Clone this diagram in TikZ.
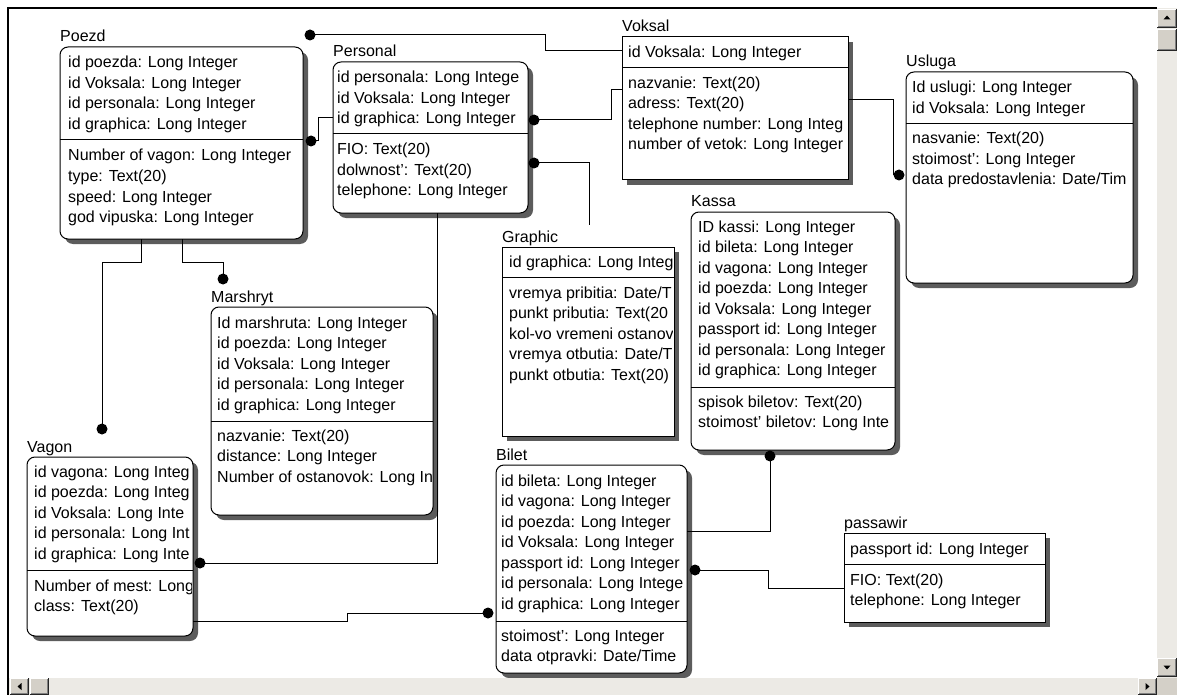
\documentclass[tikz,border=0pt]{standalone}
\usepackage{fontspec}
\setmainfont{Liberation Sans}
\definecolor{btnface}{HTML}{D4D0C8}
\definecolor{track}{HTML}{ECEAE5}
\definecolor{btnshade}{HTML}{808080}
\definecolor{shadowgray}{HTML}{5C5C5C}
\newcommand{\erfont}{\fontsize{16}{20}\selectfont}

\tikzset{
  entbox/.style={draw, fill=white, line width=1pt, inner sep=0pt, outer sep=0pt},
  roundbox/.style={rounded corners=8pt},
  squarebox/.style={sharp corners},
  enttitle/.style={anchor=base west, inner sep=0pt, font=\erfont},
  rowtext/.style={anchor=base west, inner sep=0pt, font=\erfont},
  conn/.style={line width=1pt},
  dotmark/.style={fill=black},
}

% table: name, title, corner style, left, top, right, bottom, separator y
\newcommand{\entity}[8]{%
  \path[fill=shadowgray,#3] ({#4+5},{#5+5}) rectangle ({#6+5},{#7+5});
  \node[entbox,#3,minimum width={#6-#4},minimum height={#7-#5}] (#1) at ({(#4+#6)/2},{(#5+#7)/2}) {};
  \node[enttitle] (#1-title) at (#4,#5-5) {#2};
  \draw[line width=1pt] (#1.west |- 0,#8) -- (#1.east |- 0,#8);
}
% field rows: name prefix, table node, x, first baseline, list of fields
\newcommand{\entrows}[5]{%
  \begin{scope}
    \clip (#2.south west) rectangle ([xshift=-1.5pt]#2.north east);
    \foreach \rowlabel [count=\k from 0] in {#5}
      \node[rowtext] (#1\k) at (#3, #4+20.5*\k) {\rowlabel};
  \end{scope}
}
% raised window button
\newcommand{\winbtn}[4]{%
  \fill[btnface] (#1,#2) rectangle (#3,#4);
  \draw[white, line width=1pt] (#1+0.5,#4-1) -- (#1+0.5,#2+0.5) -- (#3-1,#2+0.5);
  \draw[btnshade, line width=1pt] (#1+1,#4-1.5) -- (#3-1.5,#4-1.5) -- (#3-1.5,#2+1);
  \draw[black!85, line width=1pt] (#1,#4-0.5) -- (#3-0.5,#4-0.5) -- (#3-0.5,#2);
}

\begin{document}
\begin{tikzpicture}[x=1pt,y=-1pt]
\useasboundingbox (0,0) rectangle (1177,695);
\fill[white] (0,0) rectangle (1177,695);

% ---------- tables ----------
\entity{poezd}{Poezd}{roundbox}{60}{47}{303}{239}{140}
\entrows{poezdk}{poezd}{68}{68}{id poezda: Long Integer,id Voksala: Long Integer,id personala: Long Integer,id graphica: Long Integer}
\entrows{poezda}{poezd}{68}{161}{Number of vagon: Long Integer,type: Text(20),speed: Long Integer,god vipuska: Long Integer}

\entity{personal}{Personal}{roundbox}{333}{62}{528}{213}{134}
\entrows{personalk}{personal}{337}{83}{id personala: Long Intege,id Voksala: Long Integer,id graphica: Long Integer}
\entrows{personala}{personal}{337}{155}{FIO: Text(20),dolwnost': Text(20),telephone: Long Integer}

\entity{voksal}{Voksal}{squarebox}{622}{37}{848}{180}{68}
\entrows{voksalk}{voksal}{628}{57.5}{id Voksala: Long Integer}
\entrows{voksala}{voksal}{628}{88.5}{nazvanie: Text(20),adress: Text(20),telephone number: Long Integ,number of vetok: Long Integer}

\entity{usluga}{Usluga}{roundbox}{906}{72}{1133}{283}{124}
\entrows{uslugak}{usluga}{912}{93}{Id uslugi: Long Integer,id Voksala: Long Integer}
\entrows{uslugaa}{usluga}{912}{144}{nasvanie: Text(20),stoimost': Long Integer,data predostavlenia: Date/Tim}

\entity{graphic}{Graphic}{squarebox}{502}{247}{674}{436}{277}
\entrows{graphick}{graphic}{509}{267}{id graphica: Long Integ}
\entrows{graphica}{graphic}{509}{298}{vremya pribitia: Date/T,punkt pributia: Text(20,kol-vo vremeni ostanov,vremya otbutia: Date/T,punkt otbutia: Text(20)}

\entity{kassa}{Kassa}{roundbox}{691}{212}{895}{450}{387}
\entrows{kassak}{kassa}{698}{232}{ID kassi: Long Integer,id bileta: Long Integer,id vagona: Long Integer,id poezda: Long Integer,id Voksala: Long Integer,passport id: Long Integer,id personala: Long Integer,id graphica: Long Integer}
\entrows{kassaa}{kassa}{698}{407}{spisok biletov: Text(20),stoimost' biletov: Long Inte}

\entity{marshryt}{Marshryt}{roundbox}{211}{307}{433}{515}{421}
\entrows{marshrytk}{marshryt}{217}{328}{Id marshruta: Long Integer,id poezda: Long Integer,id Voksala: Long Integer,id personala: Long Integer,id graphica: Long Integer}
\entrows{marshryta}{marshryt}{217}{441}{nazvanie: Text(20),distance: Long Integer,Number of ostanovok: Long In}

\entity{vagon}{Vagon}{roundbox}{27}{457}{193}{636}{570}
\entrows{vagonk}{vagon}{34}{477}{id vagona: Long Integ,id poezda: Long Integ,id Voksala: Long Inte,id personala: Long Int,id graphica: Long Inte}
\entrows{vagona}{vagon}{34}{591}{Number of mest: Long,class: Text(20)}

\entity{bilet}{Bilet}{roundbox}{496}{465}{687}{673}{621}
\entrows{biletk}{bilet}{501}{486}{id bileta: Long Integer,id vagona: Long Integer,id poezda: Long Integer,id Voksala: Long Integer,passport id: Long Integer,id personala: Long Intege,id graphica: Long Integer}
\entrows{bileta}{bilet}{501}{641}{stoimost': Long Integer,data otpravki: Date/Time}

\entity{passawir}{passawir}{squarebox}{844}{533}{1045}{622}{564}
\entrows{passawirk}{passawir}{850}{554}{passport id: Long Integer}
\entrows{passawira}{passawir}{850}{585}{FIO: Text(20),telephone: Long Integer}

% ---------- relationship ends ----------
\coordinate (dPoezdTop) at (310,35);
\coordinate (dPoezdPers) at (311,141);
\coordinate (dPersVoks) at (534,120);
\coordinate (dPersGraph) at (534,163);
\coordinate (gEnd) at (589,225);
\coordinate (dVagonPers) at (200,563);
\coordinate (dVagonPoezd) at (102,429);
\coordinate (dMarshPoezd) at (223,279);
\coordinate (dUsluga) at (899,175);
\coordinate (dKassa) at (770,456);
\coordinate (dBiletPass) at (695,570);
\coordinate (dBiletVagon) at (488,613);

% ---------- relationships ----------
\draw[conn] (dPoezdTop) -- (545,35) |- (voksal.west |- 0,51);
\draw[conn] (dPoezdPers) -- (318,141) |- (personal.west |- 0,118);
\draw[conn] (dPersVoks) -- (611,120) |- (voksal.west |- 0,90);
\draw[conn] (dPersGraph) -| (gEnd);
\draw[conn] (personal.south -| 437,0) -- (437,563) -- (dVagonPers);
\draw[conn] (poezd.south -| 141,0) -- (141,262) -| (dVagonPoezd);
\draw[conn] (poezd.south -| 182,0) -- (182,262) -| (dMarshPoezd);
\draw[conn] (voksal.east |- 0,100) -- (893,100) |- (dUsluga);
\draw[conn] (dKassa) |- (bilet.east |- 0,531);
\draw[conn] (dBiletPass) -- (768,570) |- (passawir.west |- 0,588);
\draw[conn] (vagon.east |- 0,621) -- (347,621) |- (dBiletVagon);

\foreach \d in {dPoezdTop,dPoezdPers,dPersVoks,dPersGraph,dVagonPers,dVagonPoezd,dMarshPoezd,dUsluga,dKassa,dBiletPass,dBiletVagon}
  \fill[dotmark] (\d) circle[radius=5.5pt];

% ---------- window frame and scroll bars ----------
\draw[line width=1.5pt] (8,695) -- (8,8) -- (1157,8);
\fill[track] (1157,8) rectangle (1177,678);
\fill[track] (9,678) rectangle (1157,695);
\fill[btnface] (1157,678) rectangle (1177,695);
\winbtn{1157}{9}{1177}{28}
\winbtn{1157}{29}{1177}{51}
\winbtn{1157}{658}{1177}{677}
\winbtn{10}{678}{29}{695}
\winbtn{30}{678}{49}{695}
\winbtn{1138}{678}{1157}{695}
\fill (1167,15.5) -- (1163.5,19.5) -- (1170.5,19.5) -- cycle;
\fill (1163.5,665.5) -- (1170.5,665.5) -- (1167,669.5) -- cycle;
\fill (17.5,686.5) -- (21.5,683) -- (21.5,690) -- cycle;
\fill (1149.5,686.5) -- (1145.5,683) -- (1145.5,690) -- cycle;
\end{tikzpicture}
\end{document}
